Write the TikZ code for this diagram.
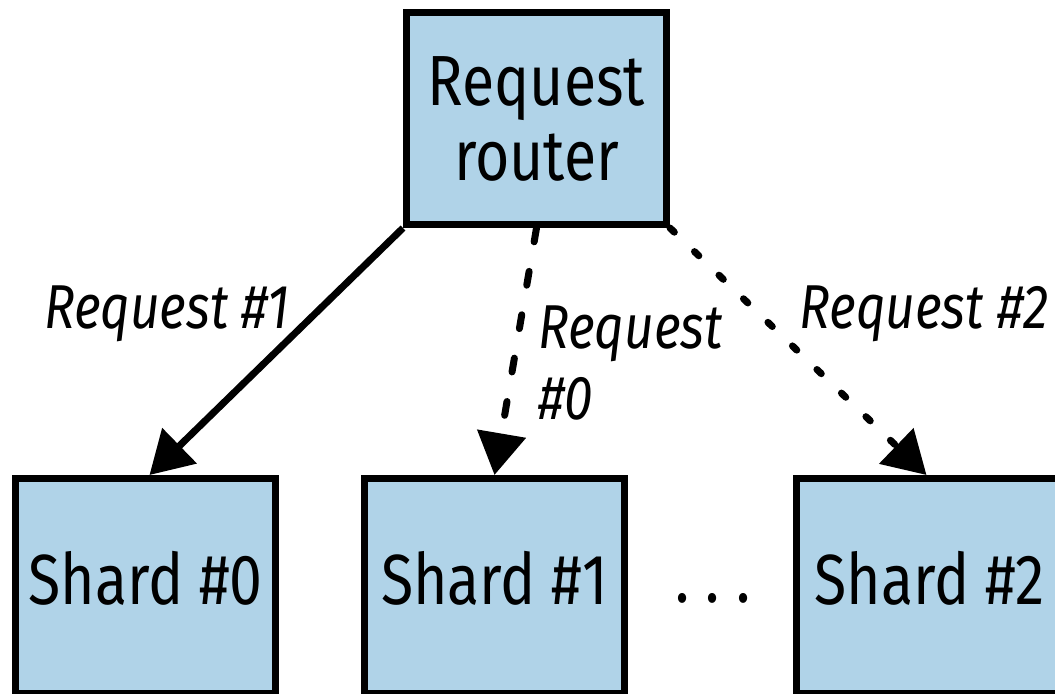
\documentclass[tikz,border=0pt]{standalone}
\usepackage{fontspec}
\setmainfont{Fira Sans}[FakeStretch=0.83]
\usetikzlibrary{arrows.meta}
\definecolor{boxblue}{RGB}{176,211,232}
\begin{document}
\begin{tikzpicture}[x=0.5pt,y=-0.5pt,
  box/.style={draw=black,fill=boxblue,line width=3.5pt,minimum width=130pt,
    minimum height=106pt,inner sep=0pt,font=\fontsize{35.5}{37.5}\selectfont},
  shardbox/.style={box,minimum height=107.5pt,text depth=8pt},
  conn/.style={line width=3.5pt,-{Triangle[length=21pt,width=24pt]}},
  lbl/.style={font=\fontsize{31}{35.5}\selectfont\itshape,inner sep=0pt}]
\useasboundingbox (0,0) rectangle (1055,693);
\node[box,align=center] (r) at (536.5,118.5) {Request\\router};
\node[shardbox] (s0) at (145.5,586) {Shard \#0};
\node[shardbox] (s1) at (494.5,586) {Shard \#1};
\node[shardbox,minimum width=133pt] (s2) at (929.5,586) {Shard \#2};
\node[font=\fontsize{35.5}{37.5}\selectfont,inner sep=0pt,anchor=base] (dots) at (713,602) {.\kern 8pt.\kern 8pt.};
\draw[conn] (r.south west) -- ([xshift=2pt]s0.north);
\draw[conn,line cap=round,dash pattern=on 7pt off 15pt] (r.south) -- (s1.north);
\draw[conn,line cap=round,dash pattern=on 3pt off 14pt] (r.south east) -- ([xshift=-1.5pt]s2.north);
\node[lbl,anchor=base] (l1) at (167,328) {Request \#1};
\node[lbl,anchor=north west,align=left] (l0) at (538,305) {Request\\\#0};
\node[lbl,anchor=base] (l2) at (924,328) {Request \#2};
\end{tikzpicture}
\end{document}
